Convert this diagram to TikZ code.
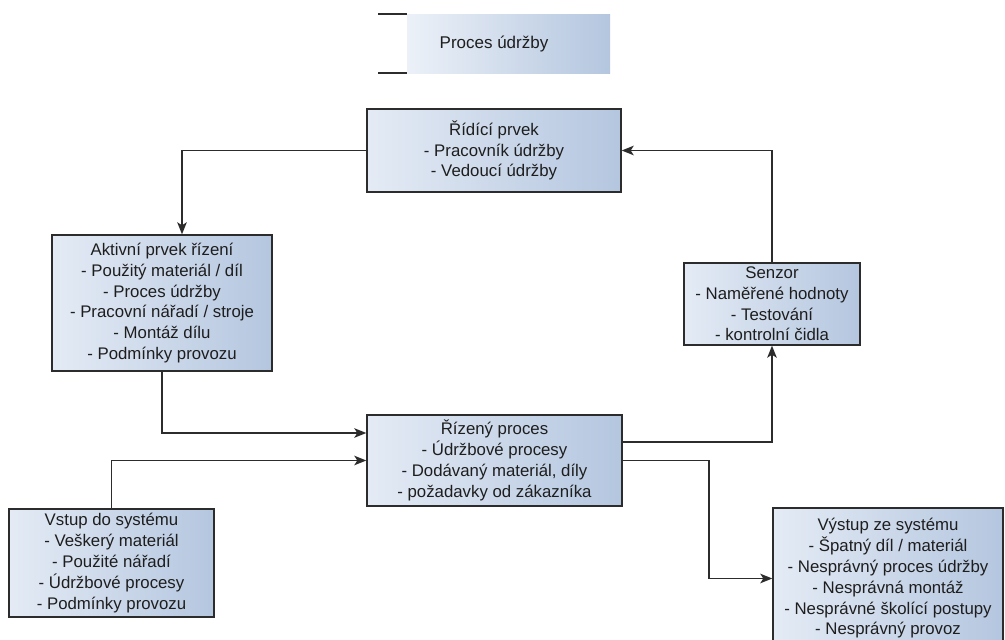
\documentclass[tikz,border=0pt]{standalone}
\usepackage{fontspec}
\setmainfont{Liberation Sans}
\usetikzlibrary{arrows.meta,calc}
\definecolor{boxlight}{HTML}{E4EBF5}
\definecolor{boxdark}{HTML}{B4C6DF}
\definecolor{linegray}{HTML}{2C2C2C}
\definecolor{textgray}{HTML}{1E1E1E}
\begin{document}
\begin{tikzpicture}[x=1pt,y=-1pt,
  box/.style={draw=linegray, line width=1.4pt, left color=boxlight, right color=boxdark,
    align=center, inner sep=0pt, text=textgray,
    font=\fontsize{16.8}{20.8}\selectfont},
  flow/.style={draw=linegray, line width=1.6pt,
    -{Stealth[length=12pt,width=9.5pt,inset=3pt]}}]
  \clip (0,0) rectangle (1005,640);
  \fill[white] (0,0) rectangle (1005,640);

  % title label with an open bracket on its left
  \shade[left color=boxlight!70!white, right color=boxdark] (407,14) rectangle (610,73);
  \draw[linegray, line width=1.4pt] (378,14) -- (407,14) (378,73) -- (407,73);
  \node[text=textgray, font=\fontsize{17}{20}\selectfont] (title) at (494,44) {Proces údržby};

  % blocks of the control loop
  \node[box, minimum width=254, minimum height=83] (ctrl) at (494,150.5)
    {Řídící prvek\\- Pracovník údržby\\- Vedoucí údržby};
  \node[box, minimum width=220, minimum height=136] (act) at (162,303)
    {Aktivní prvek řízení\\- Použitý materiál / díl\\- Proces údržby\\- Pracovní nářadí / stroje\\- Montáž dílu\\- Podmínky provozu};
  \node[box, minimum width=176, minimum height=82] (sens) at (772,304)
    {Senzor\\- Naměřené hodnoty\\- Testování\\- kontrolní čidla};
  \node[box, minimum width=255, minimum height=91] (proc) at (494.5,460.5)
    {Řízený proces\\- Údržbové procesy\\- Dodávaný materiál, díly\\- požadavky od zákazníka};
  \node[box, minimum width=205, minimum height=108] (inp) at (111.5,563)
    {Vstup do systému\\- Veškerý materiál\\- Použité nářadí\\- Údržbové procesy\\- Podmínky provozu};
  \node[box, minimum width=230, minimum height=141] (out) at (888,578.5)
    {Výstup ze systému\\- Špatný díl / materiál\\- Nesprávný proces údržby\\- Nesprávná montáž\\- Nesprávné školící postupy\\- Nesprávný provoz};

  % connectors
  \draw[flow] (ctrl.west) -| ($(act.north)+(20,0)$);
  \draw[flow] (act.south) |- ($(proc.west)+(0,-27.5)$);
  \draw[flow] (inp.north) |- (proc.west);
  \draw[flow] ($(proc.east)+(0,-18.5)$) -| (sens.south);
  \draw[flow] (proc.east) -- ++(86,0) |- (out.west);
  \draw[flow] (sens.north) |- (ctrl.east);
\end{tikzpicture}
\end{document}
